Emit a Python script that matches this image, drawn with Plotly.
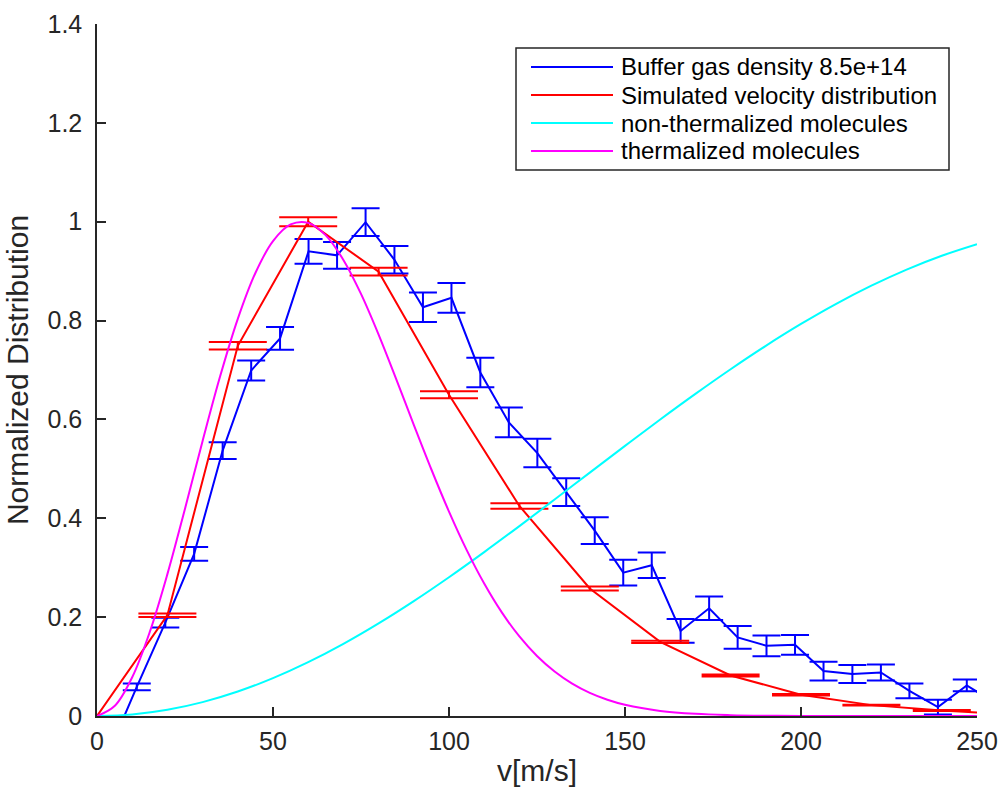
import plotly.graph_objects as go

# ---- data ----
meas_v = [3.2, 11.3, 19.4, 27.6, 35.7, 43.8, 52.0, 60.1, 68.2, 76.3, 84.5, 92.6, 100.7,
          108.9, 117.0, 125.1, 133.3, 141.4, 149.5, 157.6, 165.8, 173.9, 182.0, 190.2,
          198.3, 206.4, 214.6, 222.7, 230.8, 238.9, 247.1, 255.2]
meas_y = [-0.076, 0.059, 0.189, 0.328, 0.537, 0.699, 0.764, 0.940, 0.932, 0.999, 0.923,
          0.827, 0.846, 0.695, 0.594, 0.532, 0.453, 0.375, 0.290, 0.305, 0.172, 0.218,
          0.159, 0.142, 0.144, 0.091, 0.085, 0.088, 0.051, 0.018, 0.062, 0.026]
meas_err = [0.005, 0.007, 0.010, 0.014, 0.017, 0.020, 0.023, 0.025, 0.027, 0.028, 0.028,
            0.030, 0.030, 0.030, 0.030, 0.029, 0.028, 0.027, 0.026, 0.026, 0.024, 0.024,
            0.023, 0.021, 0.020, 0.019, 0.018, 0.016, 0.015, 0.015, 0.012, 0.012]

sim_v = [0, 20, 40, 60, 80, 100, 120, 140, 160, 180, 200, 220, 240, 260]
sim_y = [0, 0.204, 0.749, 1.0, 0.899, 0.650, 0.425, 0.258, 0.150, 0.082, 0.043, 0.022,
         0.011, 0.003]
sim_err = [0, 0.0035, 0.0076, 0.009, 0.008, 0.007, 0.0056, 0.004, 0.0024, 0.002, 0.0015,
           0.001, 0.001, 0]

therm_v = [0, 5, 10, 15, 20, 25, 30, 35, 40, 45, 50, 55, 60, 65, 70, 75, 80, 85, 90, 95,
           100, 105, 110, 115, 120, 125, 130, 135, 140, 145, 150, 160, 170, 180, 190, 200,
           225, 250]
therm_y = [0, 0.0201, 0.0784, 0.1701, 0.2870, 0.4194, 0.5565, 0.6877, 0.8035, 0.8963,
           0.9608, 0.9945, 0.9977, 0.9723, 0.9227, 0.8539, 0.7716, 0.6816, 0.5891, 0.4987,
           0.4135, 0.3361, 0.2680, 0.2096, 0.1609, 0.1213, 0.0899, 0.0654, 0.0467, 0.0328,
           0.0226, 0.0103, 0.0043, 0.0017, 0.0006, 0.0002, 0.0, 0.0]

nontherm_v = [0, 10, 20, 30, 40, 50, 60, 70, 80, 90, 100, 110, 120, 130, 140, 150, 160,
              170, 180, 190, 200, 210, 220, 230, 240, 250]
nontherm_y = [0, 0.0032, 0.0126, 0.0281, 0.0495, 0.0766, 0.1089, 0.1460, 0.1874, 0.2325,
              0.2808, 0.3316, 0.3842, 0.4381, 0.4924, 0.5465, 0.5999, 0.6517, 0.7016,
              0.7489, 0.7931, 0.8338, 0.8705, 0.9031, 0.9311, 0.9545]

names = ["Buffer gas density 8.5e+14", "Simulated velocity distribution",
         "non-thermalized molecules", "thermalized molecules"]
colors = ["#0000FF", "#FF0000", "#00FFFF", "#FF00FF"]

FONT = "Liberation Sans, Arial, Helvetica, sans-serif"
AX = "#262626"

# layout geometry (pixels)
W, H = 998, 787
ML, MR, MT, MB = 97, 21, 24, 71
PW, PH = W - ML - MR, H - MT - MB


def px_x(p):
    return (p - ML) / PW


def px_y(p):
    return (H - MB - p) / PH


fig = go.Figure()
fig.add_trace(go.Scatter(
    x=meas_v, y=meas_y, mode="lines", name=names[0], showlegend=False,
    line=dict(color=colors[0], width=2),
    error_y=dict(type="data", array=meas_err, color=colors[0], thickness=2, width=14),
))
fig.add_trace(go.Scatter(
    x=sim_v, y=sim_y, mode="lines", name=names[1], showlegend=False,
    line=dict(color=colors[1], width=2),
    error_y=dict(type="data", array=sim_err, color=colors[1], thickness=2, width=29),
))
fig.add_trace(go.Scatter(
    x=nontherm_v, y=nontherm_y, mode="lines", name=names[2], showlegend=False,
    line=dict(color=colors[2], width=2, shape="spline"),
))
fig.add_trace(go.Scatter(
    x=therm_v, y=therm_y, mode="lines", name=names[3], showlegend=False,
    line=dict(color=colors[3], width=2, shape="spline"),
))

axis_common = dict(
    showgrid=False, zeroline=False, showline=True, linecolor=AX, linewidth=1.5,
    ticks="inside", ticklen=9, tickwidth=1.5, tickcolor=AX,
    tickfont=dict(family=FONT, size=25, color=AX), mirror=False,
    automargin=False,
)
fig.update_xaxes(range=[0, 250], dtick=50, tick0=0, ticklabelstandoff=2,
                 title=dict(text="v[m/s]", font=dict(family=FONT, size=30, color=AX),
                            standoff=11),
                 **axis_common)
fig.update_yaxes(range=[0, 1.4], dtick=0.2, tick0=0, ticklabelstandoff=8,
                 title=dict(text="Normalized Distribution",
                            font=dict(family=FONT, size=30, color=AX), standoff=10),
                 **axis_common)

# legend box drawn in paper space
shapes = [dict(type="rect", xref="paper", yref="paper",
               x0=px_x(516), x1=px_x(949), y0=px_y(170), y1=px_y(48),
               line=dict(color=AX, width=1.5), fillcolor="white", layer="above")]
annotations = []
row_y = [67, 95, 123, 151]
for name, col, ry in zip(names, colors, row_y):
    shapes.append(dict(type="line", xref="paper", yref="paper",
                       x0=px_x(531), x1=px_x(613), y0=px_y(ry), y1=px_y(ry),
                       line=dict(color=col, width=2), layer="above"))
    annotations.append(dict(xref="paper", yref="paper", x=px_x(619), y=px_y(ry),
                            text=name, showarrow=False, xanchor="left",
                            yanchor="middle",
                            font=dict(family=FONT, size=24, color="black")))

fig.update_layout(
    width=W, height=H,
    margin=dict(l=ML, r=MR, t=MT, b=MB),
    paper_bgcolor="white", plot_bgcolor="white",
    font=dict(family=FONT, color=AX),
    showlegend=False,
    shapes=shapes, annotations=annotations,
)

fig.write_html("out.html")
